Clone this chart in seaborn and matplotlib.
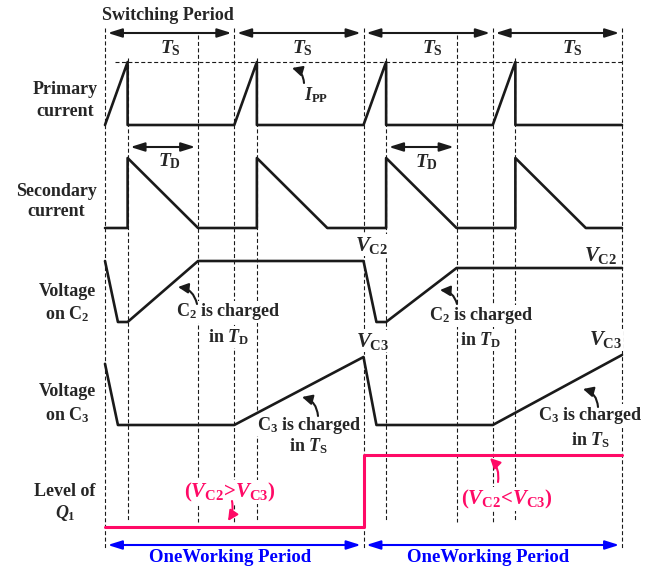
import matplotlib
matplotlib.use("Agg")
import matplotlib.pyplot as plt
import numpy as np
import pandas as pd
import seaborn as sns

# ---------------- waveform data (time in units of Ts, values normalised) ----------------
period_starts = [0, 1, 2, 3, 4]
switch_off = [0.175, 1.175, 2.175, 3.175]        # primary peak / secondary start
td_end = [0.72, 1.72, 2.72, 3.72]                # end of secondary conduction

primary_t = [0, 0.175, 0.175, 1, 1.175, 1.175, 2, 2.175, 2.175, 3, 3.175, 3.175, 4]
primary_v = [0, 1, 0, 0, 1, 0, 0, 1, 0, 0, 1, 0, 0]

secondary_t = [0, 0.175, 0.175, 0.72, 1.175, 1.175, 1.72, 2.175, 2.175, 2.72,
               3.175, 3.175, 3.72, 4]
secondary_v = [0, 0, 1, 0, 0, 1, 0, 0, 1, 0, 0, 1, 0, 0]

vc2_t = [0, 0.1, 0.175, 0.72, 2, 2.1, 2.175, 2.72, 4]
vc2_v = [1, 0, 0, 1, 1, 0, 0, 0.885, 0.885]

vc3_t = [0, 0.1, 1, 2, 2.1, 3, 4]
vc3_v = [0.9, 0, 0, 1, 0, 0, 1.03]

q1_t = [0, 2, 2, 4]
q1_v = [0, 0, 1, 1]

row_labels = [("Primary", "current"), ("Secondary", "current"),
              ("Voltage", "on C$_2$"), ("Voltage", "on C$_3$"),
              ("Level of", "$Q_1$")]

# ---------------- layout (vertical canvas units, pixels from top) ----------------
PX0, PXT = 105.0, 129.25          # x pixel of t=0 and pixels per Ts
def tx(px):
    return (px - PX0) / PXT

rows = {  # name: (baseline, height)
    "primary": (125, 63),
    "secondary": (228, 70),
    "vc2": (322, 61),
    "vc3": (425, 68),
    "q1": (527, 72),
}

sns.set_theme(style="white")
plt.rcParams["font.family"] = ["Liberation Serif", "DejaVu Serif"]
plt.rcParams["font.weight"] = "bold"
plt.rcParams["mathtext.fontset"] = "custom"
plt.rcParams["mathtext.rm"] = "Liberation Serif:bold"
plt.rcParams["mathtext.it"] = "Liberation Serif:italic:bold"
plt.rcParams["mathtext.bf"] = "Liberation Serif:bold"

PINK = "#FF0A66"
BLUE = "#0000FF"

fig = plt.figure(figsize=(6.64, 5.72), dpi=100)
ax = fig.add_axes([0, 0, 1, 1])

# ---------------- dashed timing guides ----------------
dash = (0, (3.6, 2.2))
for t in period_starts:
    bottom = 548 if t in (0, 2, 4) else 522
    ax.vlines(t, 28, bottom, colors="k", lw=0.8, linestyles=[dash], zorder=1)
for t in switch_off:
    ax.vlines(t, 58, 522, colors="k", lw=0.8, linestyles=[dash], zorder=1)
for t in (td_end[0], td_end[2]):
    ax.vlines(t, 35, 522, colors="k", lw=0.8, linestyles=[dash], zorder=1)
# peak-current reference level
ax.hlines(rows["primary"][0] - rows["primary"][1], tx(115), 4,
          colors="k", lw=0.8, linestyles=[dash], zorder=1)

# ---------------- waveforms ----------------
traces = [("primary", primary_t, primary_v, "k", 1.9),
          ("secondary", secondary_t, secondary_v, "k", 1.9),
          ("vc2", vc2_t, vc2_v, "k", 1.9),
          ("vc3", vc3_t, vc3_v, "k", 1.9),
          ("q1", q1_t, q1_v, PINK, 2.2)]
for name, t, v, c, lw in traces:
    base, h = rows[name]
    df = pd.DataFrame({"t": t, "y": base - h * np.asarray(v, dtype=float)})
    sns.lineplot(data=df, x="t", y="y", sort=False, estimator=None,
                 color=c, lw=lw, ax=ax, zorder=3)
ax.set_xlim(tx(0), tx(664))
ax.set_ylim(572, 0)
ax.axis("off")

# ---------------- row labels ----------------
label_pos = [(65, 90, 111), (56, 191, 212), (67, 291, 314), (67, 392, 415), (65, 491, 513)]
for (l1, l2), (px, y1, y2) in zip(row_labels, label_pos):
    ax.text(tx(px), y1, l1, ha="center", va="center", fontsize=13)
    ax.text(tx(px), y2, l2, ha="center", va="center", fontsize=13)

# ---------------- timing arrows ----------------
def dbl_arrow(t0, t1, y, color="k"):
    ax.annotate("", xy=(t1, y), xytext=(t0, y),
                arrowprops=dict(arrowstyle="<|-|>,head_length=0.7,head_width=0.22",
                                color=color, lw=1.5, shrinkA=2, shrinkB=2,
                                mutation_scale=12), zorder=4)

for k in range(4):
    dbl_arrow(period_starts[k], period_starts[k + 1], 33)
for k in (0, 2):
    dbl_arrow(switch_off[k], td_end[k], 147)
dbl_arrow(0, 2, 545, BLUE)
dbl_arrow(2, 4, 545, BLUE)

ax.text(tx(168), 15, "Switching Period", ha="center", va="center", fontsize=13)
for px in (170, 302, 432, 572):
    ax.text(tx(px), 48, r"$T_\mathrm{S}$", ha="center", va="center", fontsize=14)
for px, py in ((170, 161), (427, 162)):
    ax.text(tx(px), py, r"$T_\mathrm{D}$", ha="center", va="center", fontsize=14)
ax.text(tx(316), 95, r"$I_\mathrm{PP}$", ha="center", va="center", fontsize=13)

for px in (230, 488):
    ax.text(tx(px), 558, "OneWorking Period", ha="center", va="center",
            fontsize=13.5, color=BLUE)

# ---------------- voltage level labels ----------------
wbox = dict(facecolor="white", edgecolor="none", pad=0.5)
for s, px, py in ((r"$V_\mathrm{C2}$", 372, 245), (r"$V_\mathrm{C2}$", 601, 255),
                  (r"$V_\mathrm{C3}$", 373, 341), (r"$V_\mathrm{C3}$", 606, 340)):
    ax.text(tx(px), py, s, ha="center", va="center", fontsize=15, bbox=wbox, zorder=2)

# ---------------- charging notes ----------------
notes = [("C$_2$ is charged", 228, 312), (r"in $T_\mathrm{D}$", 229, 337),
         ("C$_2$ is charged", 481, 316), (r"in $T_\mathrm{D}$", 481, 340),
         ("C$_3$ is charged", 309, 425), (r"in $T_\mathrm{S}$", 309, 446),
         ("C$_3$ is charged", 590, 415), (r"in $T_\mathrm{S}$", 591, 440)]
for s, px, py in notes:
    ax.text(tx(px), py, s, ha="center", va="center", fontsize=13, bbox=wbox, zorder=2)

ax.text(tx(230), 492, r"($V_\mathrm{C2}$>$V_\mathrm{C3}$)", ha="center", va="center",
        fontsize=15, color=PINK, bbox=wbox, zorder=2)
ax.text(tx(507), 499, r"($V_\mathrm{C2}$<$V_\mathrm{C3}$)", ha="center", va="center",
        fontsize=15, color=PINK, bbox=wbox, zorder=2)

# ---------------- curved pointer arrows ----------------
def pointer(head, tail, rad, color="k"):
    ax.annotate("", xy=(tx(head[0]), head[1]), xytext=(tx(tail[0]), tail[1]),
                arrowprops=dict(arrowstyle="-|>,head_length=0.6,head_width=0.3",
                                connectionstyle=f"arc3,rad={rad}", color=color,
                                lw=1.5, shrinkA=0, shrinkB=0, mutation_scale=10),
                zorder=4)

pointer((292, 68), (304, 83), 0.35)
pointer((178, 287), (197, 304), 0.35)
pointer((440, 290), (457, 304), 0.35)
pointer((302, 397), (318, 416), 0.35)
pointer((583, 389), (598, 407), 0.35)
pointer((228, 521), (232, 501), -0.2, PINK)
pointer((490, 458), (498, 482), 0.25, PINK)

fig.savefig("out.png", dpi=100)
